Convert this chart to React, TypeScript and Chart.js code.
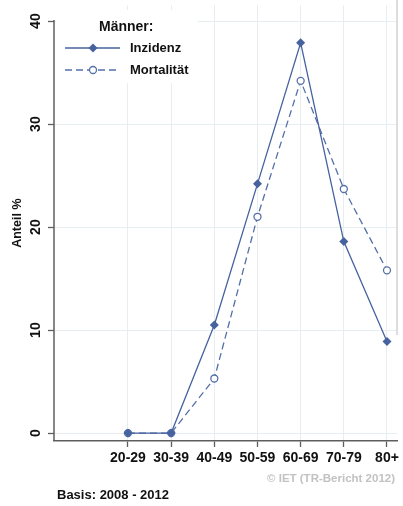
import React, { useEffect, useRef } from "react";
import { Chart, registerables } from "chart.js";

Chart.register(...registerables);

const categories = ["20-29", "30-39", "40-49", "50-59", "60-69", "70-79", "80+"];
const inzidenz = [0, 0, 10.5, 24.2, 37.9, 18.6, 8.9];
const mortalitaet = [0, 0, 5.3, 21.0, 34.2, 23.7, 15.8];
const yTicks = [0, 10, 20, 30, 40];
const seriesNames = ["Inzidenz", "Mortalität"];
const legendTitle = "Männer:";
const yTitle = "Anteil %";
const sourceNote = "© IET (TR-Bericht 2012)";
const basisNote = "Basis: 2008 - 2012";

const LINE1 = "#46639f";
const LINE2 = "#5470a8";
const AXIS = "#5e5e5e";
const GRID = "#e6eef2";
const FONT = "'Liberation Sans', Arial, Helvetica, sans-serif";

const decor = {
  id: "decor",
  beforeDatasetsDraw(chart: any) {
    const ctx = chart.ctx;
    const ys = chart.scales.y;
    const ca = chart.chartArea;
    ctx.save();
    // right frame edge
    ctx.strokeStyle = "#dddddd";
    ctx.lineWidth = 2;
    ctx.beginPath();
    ctx.moveTo(ca.right, 0);
    ctx.lineTo(ca.right, 335);
    ctx.stroke();
    // y axis line from top tick to bottom
    ctx.strokeStyle = AXIS;
    ctx.lineWidth = 1.5;
    ctx.beginPath();
    ctx.moveTo(ca.left, ys.getPixelForValue(yTicks[yTicks.length - 1]) - 1);
    ctx.lineTo(ca.left, ca.bottom);
    ctx.stroke();
    // rotated y tick labels, centred on their ticks
    ctx.fillStyle = "#111111";
    ctx.font = `bold 14px ${FONT}`;
    ctx.textAlign = "center";
    ctx.textBaseline = "middle";
    for (const t of ys.ticks) {
      const py = ys.getPixelForValue(t.value);
      ctx.save();
      ctx.translate(36, py);
      ctx.rotate(-Math.PI / 2);
      ctx.fillText(String(t.value), 0, 0);
      ctx.restore();
    }
    ctx.restore();
  },
  afterDraw(chart: any) {
    const ctx = chart.ctx;
    const ca = chart.chartArea;
    ctx.save();
    // legend box
    ctx.fillStyle = "#ffffff";
    ctx.fillRect(ca.left + 2, 10, 142, 73);
    ctx.fillStyle = "#111111";
    ctx.textBaseline = "middle";
    ctx.textAlign = "left";
    ctx.font = `bold 14px ${FONT}`;
    ctx.fillText(legendTitle, 99, 27);
    ctx.font = `bold 13px ${FONT}`;
    ctx.fillText(seriesNames[0], 130, 48);
    ctx.fillText(seriesNames[1], 130, 70);
    // sample 1
    ctx.strokeStyle = LINE1;
    ctx.lineWidth = 1.3;
    ctx.beginPath();
    ctx.moveTo(65, 48);
    ctx.lineTo(120, 48);
    ctx.stroke();
    ctx.fillStyle = LINE1;
    ctx.beginPath();
    ctx.moveTo(93, 43.5);
    ctx.lineTo(97.5, 48);
    ctx.lineTo(93, 52.5);
    ctx.lineTo(88.5, 48);
    ctx.closePath();
    ctx.fill();
    // sample 2
    ctx.strokeStyle = LINE2;
    ctx.setLineDash([7, 4]);
    ctx.beginPath();
    ctx.moveTo(65, 70);
    ctx.lineTo(120, 70);
    ctx.stroke();
    ctx.setLineDash([]);
    ctx.fillStyle = "#ffffff";
    ctx.beginPath();
    ctx.arc(93, 70, 3.5, 0, Math.PI * 2);
    ctx.fill();
    ctx.stroke();
    // notes
    ctx.fillStyle = "#c2c2c2";
    ctx.textAlign = "right";
    ctx.font = `bold 11.5px ${FONT}`;
    ctx.fillText(sourceNote, 395, 479);
    ctx.fillStyle = "#111111";
    ctx.textAlign = "left";
    ctx.font = `bold 13px ${FONT}`;
    ctx.fillText(basisNote, 57, 495);
    ctx.restore();
  },
};

export default function App() {
  const ref = useRef<HTMLCanvasElement | null>(null);
  useEffect(() => {
    if (!ref.current) return;
    const chart = new Chart(ref.current, {
      type: "line",
      data: {
        datasets: [
          {
            label: seriesNames[0],
            data: inzidenz.map((v, i) => ({ x: i, y: v })),
            borderColor: LINE1,
            backgroundColor: LINE1,
            borderWidth: 1.3,
            pointStyle: "rectRot",
            pointRadius: 4.5,
            pointBorderWidth: 0,
            pointBackgroundColor: LINE1,
            tension: 0,
          },
          {
            label: seriesNames[1],
            data: mortalitaet.map((v, i) => ({ x: i, y: v })),
            borderColor: LINE2,
            backgroundColor: "#ffffff",
            borderWidth: 1.3,
            borderDash: [7, 4],
            pointStyle: "circle",
            pointRadius: 3.5,
            pointBorderWidth: 1.3,
            pointBorderColor: LINE2,
            pointBackgroundColor: "#ffffff",
            tension: 0,
          },
        ],
      },
      options: {
        animation: false,
        responsive: false,
        devicePixelRatio: 1,
        layout: { padding: { left: 0, right: 6, top: 0, bottom: 0 } },
        plugins: { legend: { display: false }, tooltip: { enabled: false } },
        scales: {
          x: {
            type: "linear",
            min: -1.714,
            max: 6.232,
            afterBuildTicks: (s: any) => {
              s.ticks = categories.map((_, i) => ({ value: i }));
            },
            afterFit: (s: any) => {
              s.height = 65;
            },
            ticks: {
              autoSkip: false,
              maxRotation: 0,
              minRotation: 0,
              padding: 3,
              color: "#111111",
              font: { family: FONT, size: 14, weight: "bold" },
              callback: (v: any) => categories[v] ?? "",
            },
            grid: { color: GRID, lineWidth: 1, tickColor: AXIS, tickLength: 6, tickWidth: 1.3 },
            border: { display: true, color: AXIS, width: 1.5 },
          },
          y: {
            type: "linear",
            min: -0.767,
            max: 41.535,
            afterBuildTicks: (s: any) => {
              s.ticks = yTicks.map((v) => ({ value: v }));
            },
            afterFit: (s: any) => {
              s.width = 54;
            },
            ticks: {
              display: false,
            },
            title: {
              display: true,
              text: yTitle,
              color: "#111111",
              font: { family: FONT, size: 12.5, weight: "bold" },
              padding: { top: 10, bottom: 0 },
            },
            grid: { color: GRID, lineWidth: 1, tickColor: AXIS, tickLength: 6, tickWidth: 1.3 },
            border: { display: false },
          },
        },
      },
      plugins: [decor],
    });
    return () => chart.destroy();
  }, []);
  return (
    <div style={{ position: "absolute", left: 0, top: 0, width: 403, height: 506, background: "#fff" }}>
      <canvas ref={ref} width={403} height={506} style={{ display: "block" }} />
    </div>
  );
}
